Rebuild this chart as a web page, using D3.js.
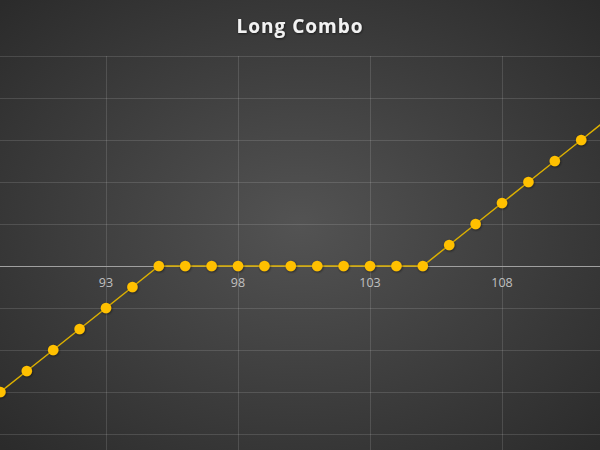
<!DOCTYPE html>
<html>
<head>
<meta charset="utf-8">
<script src="https://cdn.jsdelivr.net/npm/d3@7"></script>
<style>
  html, body { margin: 0; padding: 0; background: #3a3a3a; }
  svg { display: block; }
</style>
</head>
<body>
<div id="chart"></div>
<script>
// strike prices on the x axis and the payoff at each
var strikes = [89, 90, 91, 92, 93, 94, 95, 96, 97, 98, 99, 100, 101, 102, 103, 104, 105, 106, 107, 108, 109, 110, 111, 112];
var payoff = [-6, -5, -4, -3, -2, -1, 0, 0, 0, 0, 0, 0, 0, 0, 0, 0, 0, 1, 2, 3, 4, 5, 6, 7];
var xTicks = [93, 98, 103, 108];
var yTicks = [-8, -6, -4, -2, 0, 2, 4, 6, 8, 10];

var width = 600, height = 450;

var svg = d3.select("#chart").append("svg")
    .attr("width", width)
    .attr("height", height);

/* background: lighter in the middle, darker at the corners */
var defs = svg.append("defs");
var grad = defs.append("radialGradient")
    .attr("id", "bg")
    .attr("cx", "50%").attr("cy", "50%").attr("r", "70%");
grad.append("stop").attr("offset", "0%").attr("stop-color", "#535353");
grad.append("stop").attr("offset", "100%").attr("stop-color", "#2b2b2b");

var shadow = defs.append("filter").attr("id", "shadow")
    .attr("x", "-50%").attr("y", "-50%").attr("width", "200%").attr("height", "200%");
shadow.append("feDropShadow")
    .attr("dx", 0.6).attr("dy", 0.8).attr("stdDeviation", 0.8)
    .attr("flood-color", "#000").attr("flood-opacity", 0.6);

svg.append("rect")
    .attr("width", width).attr("height", height)
    .attr("fill", "url(#bg)");

var x = d3.scaleLinear().domain([93, 108]).range([106, 502]);
var y = d3.scaleLinear().domain([0, 6]).range([266, 140]);

/* grid lines */
svg.append("g").selectAll("line.h")
    .data(yTicks.filter(function(d) { return d !== 0; }))
    .enter().append("line")
    .attr("x1", 0).attr("x2", width)
    .attr("y1", function(d) { return y(d) + 0.5; })
    .attr("y2", function(d) { return y(d) + 0.5; })
    .attr("stroke", "#ffffff")
    .attr("stroke-opacity", 0.13)
    .attr("stroke-width", 1);

svg.append("g").selectAll("line.v")
    .data(xTicks)
    .enter().append("line")
    .attr("x1", function(d) { return x(d) + 0.5; })
    .attr("x2", function(d) { return x(d) + 0.5; })
    .attr("y1", y(10)).attr("y2", height)
    .attr("stroke", "#ffffff")
    .attr("stroke-opacity", 0.13)
    .attr("stroke-width", 1);

/* horizontal axis on zero */
svg.append("line")
    .attr("x1", 0).attr("x2", width)
    .attr("y1", y(0) + 0.5).attr("y2", y(0) + 0.5)
    .attr("stroke", "#a0a0a0")
    .attr("stroke-width", 1);

svg.append("g").selectAll("text")
    .data(xTicks)
    .enter().append("text")
    .attr("x", function(d) { return x(d); })
    .attr("y", y(0) + 21)
    .attr("text-anchor", "middle")
    .attr("font-family", "'Open Sans', sans-serif")
    .attr("font-size", 12.5)
    .attr("fill", "#c0c0c0")
    .text(function(d) { return d; });

/* the payoff line and its markers */
var pts = strikes.map(function(s, i) { return [s, payoff[i]]; });

var line = d3.line()
    .x(function(d) { return x(d[0]); })
    .y(function(d) { return y(d[1]); });

svg.append("path")
    .datum(pts)
    .attr("d", line)
    .attr("fill", "none")
    .attr("stroke", "#dcb000")
    .attr("stroke-width", 1.5);

svg.append("g").selectAll("circle")
    .data(pts)
    .enter().append("circle")
    .attr("cx", function(d) { return x(d[0]); })
    .attr("cy", function(d) { return y(d[1]); })
    .attr("r", 5.3)
    .attr("fill", "#ffc000")
    .attr("filter", "url(#shadow)");

/* title */
svg.append("text")
    .attr("x", width / 2)
    .attr("y", 33)
    .attr("text-anchor", "middle")
    .attr("font-family", "'Open Sans', sans-serif")
    .attr("font-weight", "bold")
    .attr("font-size", 19)
    .attr("letter-spacing", 1)
    .attr("fill", "#f2f2f2")
    .attr("filter", "url(#shadow)")
    .text("Long Combo");
</script>
</body>
</html>
